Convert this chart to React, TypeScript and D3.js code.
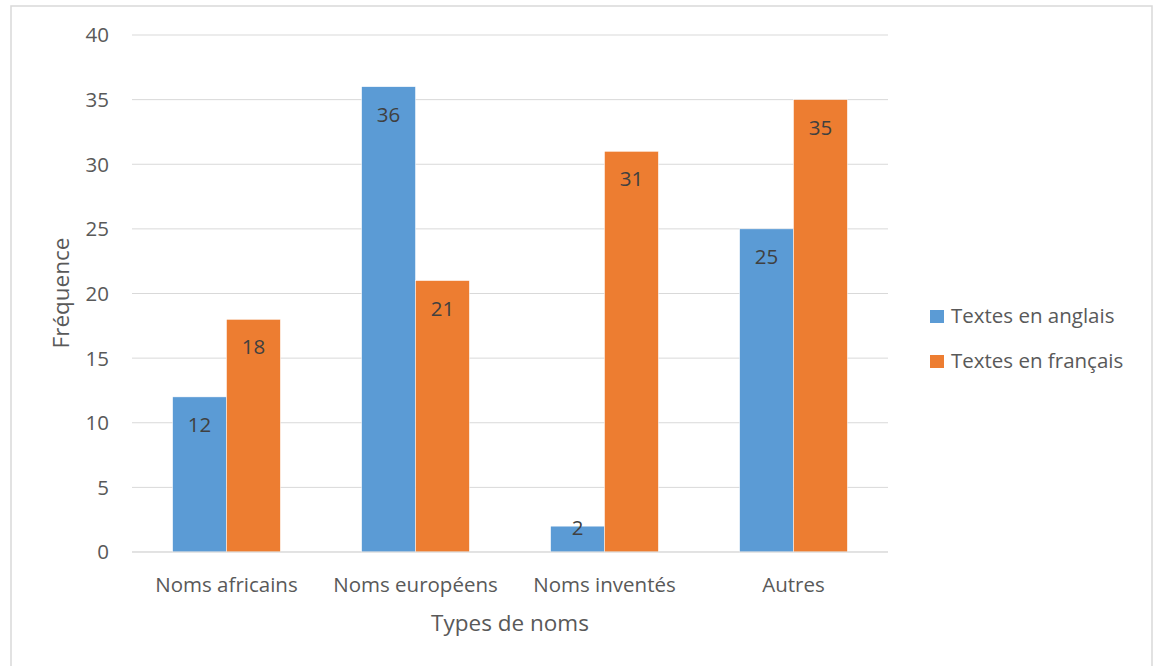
import React from "react";
import * as d3 from "d3";

const categories = ["Noms africains", "Noms européens", "Noms inventés", "Autres"];
const seriesNames = ["Textes en anglais", "Textes en français"];
const anglais = [12, 36, 2, 25];
const francais = [18, 21, 31, 35];
const yTicks = [0, 5, 10, 15, 20, 25, 30, 35, 40];
const colors = ["#5B9BD5", "#ED7D31"];

const W = 1155;
const H = 666;
const FONT = "'Open Sans', 'Noto Sans', sans-serif";

export default function App() {
  const plotLeft = 132;
  const plotRight = 888;
  const plotTop = 35;
  const plotBottom = 552;

  const x = d3.scaleBand<string>().domain(categories).range([plotLeft, plotRight]).paddingInner(0.43).paddingOuter(0.215);
  const x1 = d3.scaleBand<string>().domain(seriesNames).range([0, x.bandwidth()]).padding(0);
  const y = d3.scaleLinear().domain([0, 40]).range([plotBottom, plotTop]);
  const series = [anglais, francais];

  return (
    <svg width={W} height={H} style={{ position: "absolute", left: 0, top: 0, background: "#fff" }} fontFamily={FONT}>
      <rect x={11} y={6} width={1141} height={700} fill="#fff" stroke="#D9D9D9" strokeWidth={1.5} />
      {yTicks.map((t) => (
        <g key={t}>
          <line x1={plotLeft} x2={plotRight} y1={y(t)} y2={y(t)} stroke="#D9D9D9" strokeWidth={1} />
          <text x={109} y={y(t)} dy="0.36em" textAnchor="end" fontSize={20.5} fill="#595959">{t}</text>
        </g>
      ))}
      {categories.map((c, i) => (
        <g key={c}>
          {series.map((s, j) => {
            const bx = (x(c) as number) + (x1(seriesNames[j]) as number);
            const bw = x1.bandwidth();
            const ly = Math.min(y(s[i]) + 35, plotBottom - 17);
            return (
              <g key={j}>
                <rect x={bx} y={y(s[i])} width={bw} height={plotBottom - y(s[i])} fill={colors[j]} stroke="#fff" strokeWidth={0.5} />
                <text x={bx + bw / 2} y={ly} textAnchor="middle" fontSize={20.5} fill="#404040">{s[i]}</text>
              </g>
            );
          })}
          <text x={(x(c) as number) + x.bandwidth() / 2} y={592} textAnchor="middle" fontSize={20.5} fill="#595959">{c}</text>
        </g>
      ))}
      <line x1={plotLeft} x2={plotRight} y1={plotBottom} y2={plotBottom} stroke="#D9D9D9" strokeWidth={1} />
      <text transform={`translate(69,293) rotate(-90)`} textAnchor="middle" fontSize={22.5} fill="#595959">Fréquence</text>
      <text x={510} y={631} textAnchor="middle" fontSize={22.5} fill="#595959">Types de noms</text>
      {seriesNames.map((n, j) => (
        <g key={n}>
          <rect x={930} y={310 + j * 45} width={14} height={13} fill={colors[j]} />
          <text x={951} y={323 + j * 45} fontSize={20.5} fill="#595959">{n}</text>
        </g>
      ))}
    </svg>
  );
}
